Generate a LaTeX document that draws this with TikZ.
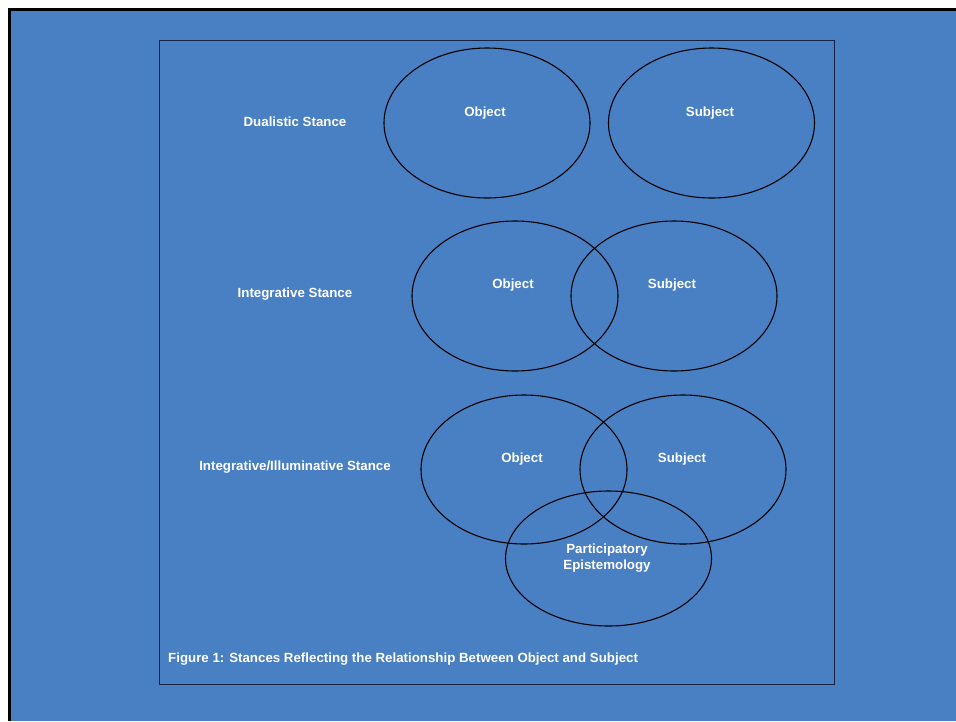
\documentclass[tikz,border=0pt]{standalone}
\usepackage{fontspec}
\setmainfont{Liberation Sans}
\definecolor{bgblue}{RGB}{73,128,195}
\definecolor{framenavy}{RGB}{20,35,65}
\begin{document}
\begin{tikzpicture}[x=1pt,y=-1pt,
  lbl/.style={text=white,font=\fontsize{13.3}{16}\selectfont\bfseries,inner sep=0pt},
]
\useasboundingbox (0,0) rectangle (956,721);
\fill[white] (0,0) rectangle (956,721);
\fill[bgblue] (9,9) rectangle (956,721);
\draw[black,line width=3pt] (9.5,721) -- (9.5,9.5) -- (956,9.5);
\node[draw=framenavy,line width=1.5pt,minimum width=675pt,minimum height=644pt,inner sep=0pt,anchor=north west] (frame) at (158.5,39.5) {};
% row 1
\draw[line width=1.1pt] (487,123) ellipse [x radius=103, y radius=75];
\draw[line width=1.1pt] (711.5,123) ellipse [x radius=103, y radius=75];
\node[lbl] (o1) at (485,113.5) {Object};
\node[lbl] (s1) at (710,113.5) {Subject};
\node[lbl] (d1) at (295,121.5) {Dualistic Stance};
% row 2
\draw[line width=1.1pt] (515,296) ellipse [x radius=103, y radius=75];
\draw[line width=1.1pt] (674,296) ellipse [x radius=103, y radius=75];
\node[lbl] (o2) at (513,285.5) {Object};
\node[lbl] (s2) at (672,285.5) {Subject};
\node[lbl] (d2) at (295,294.5) {Integrative Stance};
% row 3
\draw[line width=1.1pt] (524,469.5) ellipse [x radius=103, y radius=74.5];
\draw[line width=1.1pt] (683,469.5) ellipse [x radius=103, y radius=74.5];
\draw[line width=1.1pt] (608.5,558.5) ellipse [x radius=103, y radius=67.5];
\node[lbl] (o3) at (522,459.5) {Object};
\node[lbl] (s3) at (682,459.5) {Subject};
\node[lbl] (d3) at (295,467.5) {Integrative/Illuminative Stance};
\node[lbl,align=center] (p3) at (607,558.5) {Participatory\\Epistemology};
% caption
\node[lbl,anchor=west] (cap) at (168,659.5) {Figure 1: Stances Reflecting the Relationship Between Object and Subject};
\end{tikzpicture}
\end{document}
